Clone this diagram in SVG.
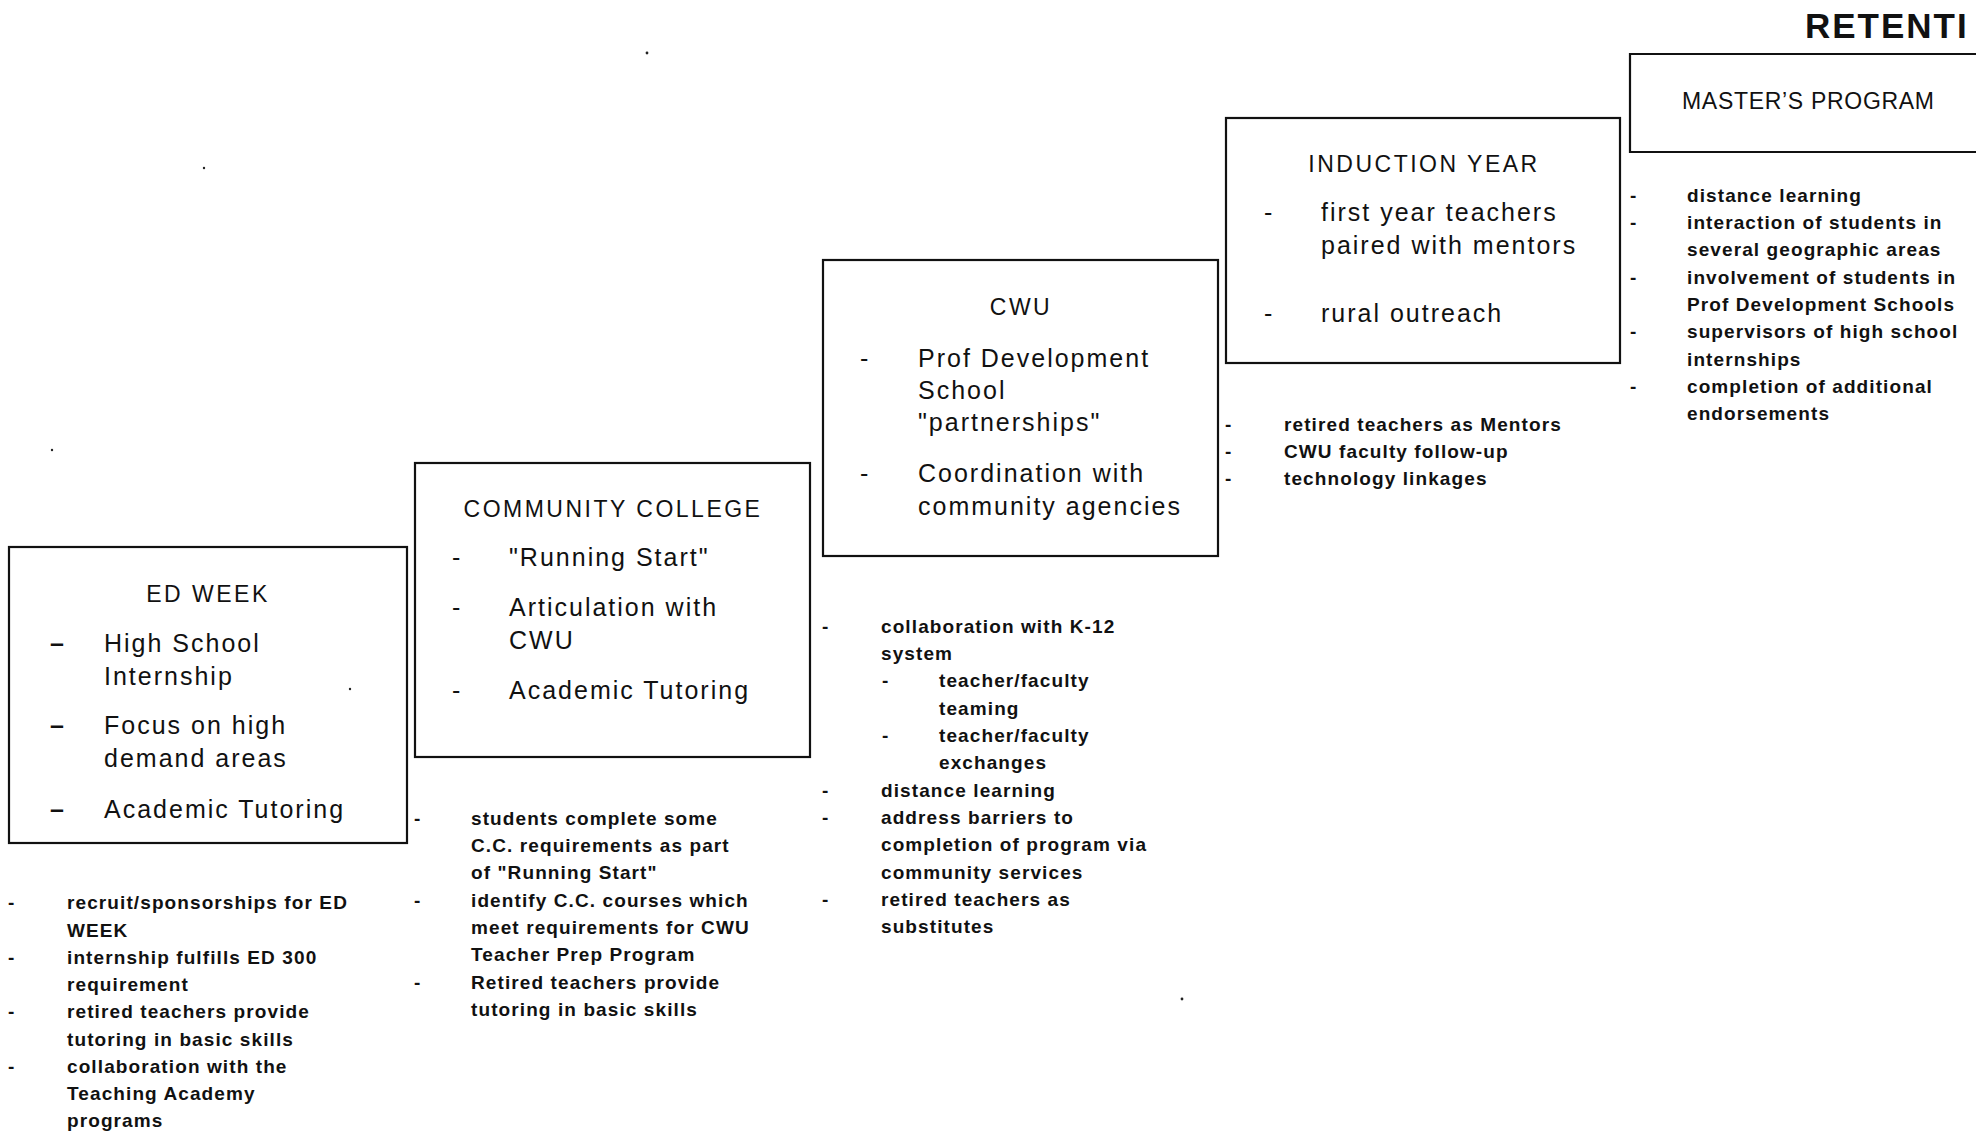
<svg xmlns="http://www.w3.org/2000/svg" width="1982" height="1132" viewBox="0 0 1982 1132">
<style>
text{font-family:"Liberation Sans",Arial,Helvetica,sans-serif;fill:#111}
.box{fill:none;stroke:#111;stroke-width:2.2}
.hd{font-size:23px;letter-spacing:2.5px;text-anchor:middle}
.it{font-size:25px;letter-spacing:2px}
.ls{font-size:19px;font-weight:bold;letter-spacing:1.1px}
.title{font-size:35px;font-weight:bold;letter-spacing:2px}
.bd{font-size:25px;font-weight:bold}
.dot{fill:#222}
</style>
<rect width="1982" height="1132" fill="#fff"/>
<text class="title" x="1805" y="38">RETENTI</text>

<g id="edweek">
<rect class="box" x="9" y="547" width="398" height="296"/>
<text class="hd" x="208" y="602">ED WEEK</text>
<text class="bd" x="50" y="652">–</text>
<text class="bd" x="50" y="734">–</text>
<text class="bd" x="50" y="818">–</text>
<text class="it" x="104" y="652">High School</text>
<text class="it" x="104" y="685">Internship</text>
<text class="it" x="104" y="734">Focus on high</text>
<text class="it" x="104" y="767">demand areas</text>
<text class="it" x="104" y="818">Academic Tutoring</text>
</g>
<g id="edweek-notes" class="ls">
<text class="ls" x="8" y="909">-</text>
<text class="ls" x="8" y="964">-</text>
<text class="ls" x="8" y="1018">-</text>
<text class="ls" x="8" y="1073">-</text>
<text class="ls" x="67" y="909">recruit/sponsorships for ED</text>
<text class="ls" x="67" y="937">WEEK</text>
<text class="ls" x="67" y="964">internship fulfills ED 300</text>
<text class="ls" x="67" y="991">requirement</text>
<text class="ls" x="67" y="1018">retired teachers provide</text>
<text class="ls" x="67" y="1046">tutoring in basic skills</text>
<text class="ls" x="67" y="1073">collaboration with the</text>
<text class="ls" x="67" y="1100">Teaching Academy</text>
<text class="ls" x="67" y="1127">programs</text>
</g>

<g id="community-college">
<rect class="box" x="415" y="463" width="395" height="294"/>
<text class="hd" x="613" y="517">COMMUNITY COLLEGE</text>
<text class="it" x="452" y="566">-</text>
<text class="it" x="452" y="616">-</text>
<text class="it" x="452" y="699">-</text>
<text class="it" x="509" y="566">"Running Start"</text>
<text class="it" x="509" y="616">Articulation with</text>
<text class="it" x="509" y="649">CWU</text>
<text class="it" x="509" y="699">Academic Tutoring</text>
</g>
<g id="community-college-notes">
<text class="ls" x="414" y="825">-</text>
<text class="ls" x="414" y="907">-</text>
<text class="ls" x="414" y="989">-</text>
<text class="ls" x="471" y="825">students complete some</text>
<text class="ls" x="471" y="852">C.C. requirements as part</text>
<text class="ls" x="471" y="879">of "Running Start"</text>
<text class="ls" x="471" y="907">identify C.C. courses which</text>
<text class="ls" x="471" y="934">meet requirements for CWU</text>
<text class="ls" x="471" y="961">Teacher Prep Program</text>
<text class="ls" x="471" y="989">Retired teachers provide</text>
<text class="ls" x="471" y="1016">tutoring in basic skills</text>
</g>

<g id="cwu">
<rect class="box" x="823" y="260" width="395" height="296"/>
<text class="hd" x="1021" y="315">CWU</text>
<text class="it" x="860" y="367">-</text>
<text class="it" x="860" y="482">-</text>
<text class="it" x="918" y="367">Prof Development</text>
<text class="it" x="918" y="399">School</text>
<text class="it" x="918" y="431">"partnerships"</text>
<text class="it" x="918" y="482">Coordination with</text>
<text class="it" x="918" y="515">community agencies</text>
</g>
<g id="cwu-notes">
<text class="ls" x="822" y="633">-</text>
<text class="ls" x="882" y="687">-</text>
<text class="ls" x="882" y="742">-</text>
<text class="ls" x="822" y="797">-</text>
<text class="ls" x="822" y="824">-</text>
<text class="ls" x="822" y="906">-</text>
<text class="ls" x="881" y="633">collaboration with K-12</text>
<text class="ls" x="881" y="660">system</text>
<text class="ls" x="939" y="687">teacher/faculty</text>
<text class="ls" x="939" y="715">teaming</text>
<text class="ls" x="939" y="742">teacher/faculty</text>
<text class="ls" x="939" y="769">exchanges</text>
<text class="ls" x="881" y="797">distance learning</text>
<text class="ls" x="881" y="824">address barriers to</text>
<text class="ls" x="881" y="851">completion of program via</text>
<text class="ls" x="881" y="879">community services</text>
<text class="ls" x="881" y="906">retired teachers as</text>
<text class="ls" x="881" y="933">substitutes</text>
</g>

<g id="induction-year">
<rect class="box" x="1226" y="118" width="394" height="245"/>
<text class="hd" x="1424" y="172">INDUCTION YEAR</text>
<text class="it" x="1264" y="221">-</text>
<text class="it" x="1264" y="322">-</text>
<text class="it" x="1321" y="221">first year teachers</text>
<text class="it" x="1321" y="254">paired with mentors</text>
<text class="it" x="1321" y="322">rural outreach</text>
</g>
<g id="induction-notes">
<text class="ls" x="1225" y="431">-</text>
<text class="ls" x="1225" y="458">-</text>
<text class="ls" x="1225" y="485">-</text>
<text class="ls" x="1284" y="431">retired teachers as Mentors</text>
<text class="ls" x="1284" y="458">CWU faculty follow-up</text>
<text class="ls" x="1284" y="485">technology linkages</text>
</g>

<g id="masters-program">
<path class="box" d="M1976,54 H1630 V152 H1976"/>
<text class="hd" x="1682" y="109" style="text-anchor:start;letter-spacing:0.7px">MASTER’S PROGRAM</text>
</g>
<g id="masters-notes">
<text class="ls" x="1630" y="202">-</text>
<text class="ls" x="1630" y="229">-</text>
<text class="ls" x="1630" y="284">-</text>
<text class="ls" x="1630" y="338">-</text>
<text class="ls" x="1630" y="393">-</text>
<text class="ls" x="1687" y="202">distance learning</text>
<text class="ls" x="1687" y="229">interaction of students in</text>
<text class="ls" x="1687" y="256">several geographic areas</text>
<text class="ls" x="1687" y="284">involvement of students in</text>
<text class="ls" x="1687" y="311">Prof Development Schools</text>
<text class="ls" x="1687" y="338">supervisors of high school</text>
<text class="ls" x="1687" y="366">internships</text>
<text class="ls" x="1687" y="393">completion of additional</text>
<text class="ls" x="1687" y="420">endorsements</text>
</g>

<g id="specks">
<circle class="dot" cx="647" cy="53" r="1.4"/>
<circle class="dot" cx="204" cy="168" r="1.2"/>
<circle class="dot" cx="52" cy="450" r="1.2"/>
<circle class="dot" cx="350" cy="689" r="1.2"/>
<circle class="dot" cx="1182" cy="999" r="1.4"/>
</g>
</svg>
